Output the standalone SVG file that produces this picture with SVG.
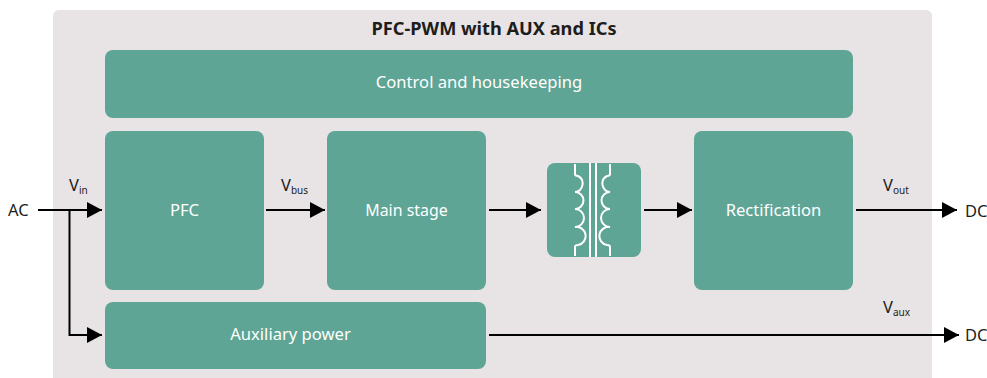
<svg xmlns="http://www.w3.org/2000/svg" width="987" height="378" viewBox="0 0 987 378">
<style>
text{font-family:"Noto Sans","Open Sans",sans-serif;fill:#1d1d1b;font-size:16.500px}
.w{fill:#fff;text-anchor:middle;font-size:16.600px}
.s{font-size:10px}
.b{fill:#5ea595}
.c{fill:none;stroke:#000;stroke-width:2}
.t{fill:none;stroke:#fff;stroke-width:2}
</style>
<defs><marker id="a" markerUnits="userSpaceOnUse" markerWidth="16" markerHeight="16" refX="15" refY="8" orient="auto"><path d="M0 0L15 8L0 16Z" fill="#000"/></marker></defs>
<rect id="panel" x="53" y="10" width="879" height="380" rx="6" fill="#e8e3e4"/>
<text x="494" y="35" text-anchor="middle" style="font-weight:700;font-size:18.200px">PFC-PWM with AUX and ICs</text>
<g id="control"><rect class="b" x="105" y="50" width="748" height="68" rx="8"/><text class="w" x="479" y="88">Control and housekeeping</text></g>
<g id="pfc"><rect class="b" x="105" y="131" width="159" height="159" rx="8"/><text class="w" x="184.500" y="216">PFC</text></g>
<g id="main"><rect class="b" x="327" y="131" width="159" height="159" rx="8"/><text class="w" x="406.500" y="216" style="font-size:15.900px">Main stage</text></g>
<g id="transformer"><rect class="b" x="547" y="163" width="94" height="94" rx="8"/>
<path class="t" d="M590 163V257M596 163V257M575 164V174Q575 176 578 176A8.500 8.500 0 0 1 575 192A8.500 8.500 0 0 1 575 209A9 9 0 0 1 575 227A8.500 8.500 0 0 1 578 245Q575 245 575 247V256M610 164V174Q610 176 607 176A8.500 8.500 0 0 0 610 192A8.500 8.500 0 0 0 610 209A9 9 0 0 0 610 227A8.500 8.500 0 0 0 607 245Q610 245 610 247V256"/></g>
<g id="rect"><rect class="b" x="694" y="131" width="159" height="159" rx="8"/><text class="w" x="773.500" y="216">Rectification</text></g>
<g id="aux"><rect class="b" x="105" y="302" width="381" height="67" rx="8"/><text class="w" x="290.500" y="340">Auxiliary power</text></g>
<g id="connectors">
<path class="c" marker-end="url(#a)" d="M38 210H102"/>
<path class="c" marker-end="url(#a)" d="M69.500 210V335H102"/>
<path class="c" marker-end="url(#a)" d="M266 210H325"/>
<path class="c" marker-end="url(#a)" d="M489 210H541"/>
<path class="c" marker-end="url(#a)" d="M644 210H692"/>
<path class="c" marker-end="url(#a)" d="M856 210H957"/>
<path class="c" marker-end="url(#a)" d="M489 335H959"/>
</g>
<g id="labels">
<text x="8" y="216">AC</text>
<text x="69" y="191">V<tspan class="s" dy="3">in</tspan></text>
<text x="281" y="191">V<tspan class="s" dy="3">bus</tspan></text>
<text x="883" y="191">V<tspan class="s" dy="3">out</tspan></text>
<text x="883" y="313">V<tspan class="s" dy="3">aux</tspan></text>
<text x="965" y="217">DC</text>
<text x="965" y="341">DC</text>
</g>
</svg>
